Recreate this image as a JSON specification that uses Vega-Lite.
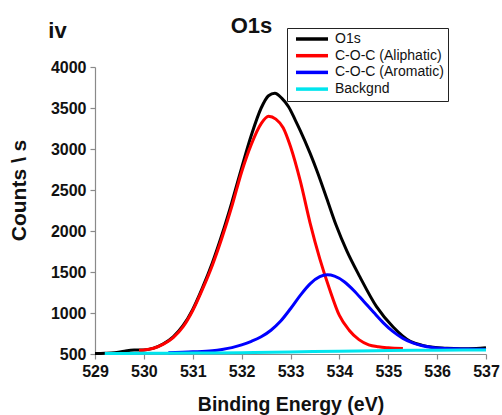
{
  "$schema": "https://vega.github.io/schema/vega-lite/v6.json",
  "width": 391,
  "height": 287,
  "autosize": {"type": "none"},
  "padding": {"left": 95, "top": 67, "right": 16, "bottom": 61},
  "background": "white",
  "config": {
    "view": {"stroke": null},
    "axis": {
      "grid": false,
      "domainColor": "#8a8a8a",
      "domainWidth": 1.2,
      "tickColor": "#8a8a8a",
      "tickWidth": 1.2,
      "labelFont": "Liberation Sans",
      "labelFontWeight": "bold",
      "labelFontSize": 16,
      "labelColor": "#111111",
      "titleFont": "Liberation Sans",
      "titleFontWeight": "bold",
      "titleColor": "#111111"
    },
    "legend": {
      "labelFont": "Liberation Sans",
      "labelFontSize": 14,
      "labelColor": "#111111"
    }
  },
  "layer": [
    {
      "data": {
        "values": [
          {"s": "O1s", "e": 529.0, "c": 505},
          {"s": "O1s", "e": 529.2, "c": 508},
          {"s": "O1s", "e": 529.4, "c": 515},
          {"s": "O1s", "e": 529.6, "c": 535},
          {"s": "O1s", "e": 529.8, "c": 548},
          {"s": "O1s", "e": 530.0, "c": 550},
          {"s": "O1s", "e": 530.2, "c": 572},
          {"s": "O1s", "e": 530.4, "c": 625},
          {"s": "O1s", "e": 530.6, "c": 710},
          {"s": "O1s", "e": 530.8, "c": 845},
          {"s": "O1s", "e": 531.0, "c": 1045},
          {"s": "O1s", "e": 531.2, "c": 1310},
          {"s": "O1s", "e": 531.4, "c": 1610},
          {"s": "O1s", "e": 531.6, "c": 1960},
          {"s": "O1s", "e": 531.8, "c": 2350},
          {"s": "O1s", "e": 532.0, "c": 2770},
          {"s": "O1s", "e": 532.2, "c": 3170},
          {"s": "O1s", "e": 532.4, "c": 3500},
          {"s": "O1s", "e": 532.55, "c": 3650},
          {"s": "O1s", "e": 532.68, "c": 3680},
          {"s": "O1s", "e": 532.82, "c": 3620},
          {"s": "O1s", "e": 532.96, "c": 3515},
          {"s": "O1s", "e": 533.1, "c": 3350},
          {"s": "O1s", "e": 533.2, "c": 3225},
          {"s": "O1s", "e": 533.4, "c": 2950},
          {"s": "O1s", "e": 533.55, "c": 2720},
          {"s": "O1s", "e": 533.74, "c": 2400},
          {"s": "O1s", "e": 533.94, "c": 2060},
          {"s": "O1s", "e": 534.15, "c": 1760},
          {"s": "O1s", "e": 534.42, "c": 1440},
          {"s": "O1s", "e": 534.76, "c": 1077},
          {"s": "O1s", "e": 535.1, "c": 830},
          {"s": "O1s", "e": 535.45, "c": 655},
          {"s": "O1s", "e": 535.7, "c": 605},
          {"s": "O1s", "e": 535.92, "c": 582},
          {"s": "O1s", "e": 536.2, "c": 570},
          {"s": "O1s", "e": 536.47, "c": 565},
          {"s": "O1s", "e": 536.8, "c": 568},
          {"s": "O1s", "e": 537.0, "c": 577},

          {"s": "C-O-C (Aliphatic)", "e": 529.9, "c": 545},
          {"s": "C-O-C (Aliphatic)", "e": 530.0, "c": 548},
          {"s": "C-O-C (Aliphatic)", "e": 530.2, "c": 570},
          {"s": "C-O-C (Aliphatic)", "e": 530.4, "c": 620},
          {"s": "C-O-C (Aliphatic)", "e": 530.6, "c": 700},
          {"s": "C-O-C (Aliphatic)", "e": 530.8, "c": 830},
          {"s": "C-O-C (Aliphatic)", "e": 531.0, "c": 1030},
          {"s": "C-O-C (Aliphatic)", "e": 531.2, "c": 1290},
          {"s": "C-O-C (Aliphatic)", "e": 531.4, "c": 1580},
          {"s": "C-O-C (Aliphatic)", "e": 531.6, "c": 1920},
          {"s": "C-O-C (Aliphatic)", "e": 531.8, "c": 2300},
          {"s": "C-O-C (Aliphatic)", "e": 532.0, "c": 2720},
          {"s": "C-O-C (Aliphatic)", "e": 532.2, "c": 3060},
          {"s": "C-O-C (Aliphatic)", "e": 532.4, "c": 3310},
          {"s": "C-O-C (Aliphatic)", "e": 532.55, "c": 3400},
          {"s": "C-O-C (Aliphatic)", "e": 532.7, "c": 3365},
          {"s": "C-O-C (Aliphatic)", "e": 532.85, "c": 3260},
          {"s": "C-O-C (Aliphatic)", "e": 533.0, "c": 3030},
          {"s": "C-O-C (Aliphatic)", "e": 533.2, "c": 2610},
          {"s": "C-O-C (Aliphatic)", "e": 533.4, "c": 2100},
          {"s": "C-O-C (Aliphatic)", "e": 533.6, "c": 1660},
          {"s": "C-O-C (Aliphatic)", "e": 533.8, "c": 1290},
          {"s": "C-O-C (Aliphatic)", "e": 534.0, "c": 970},
          {"s": "C-O-C (Aliphatic)", "e": 534.2, "c": 790},
          {"s": "C-O-C (Aliphatic)", "e": 534.4, "c": 675},
          {"s": "C-O-C (Aliphatic)", "e": 534.6, "c": 612},
          {"s": "C-O-C (Aliphatic)", "e": 534.8, "c": 588},
          {"s": "C-O-C (Aliphatic)", "e": 535.0, "c": 576},
          {"s": "C-O-C (Aliphatic)", "e": 535.3, "c": 566},

          {"s": "C-O-C (Aromatic)", "e": 530.5, "c": 516},
          {"s": "C-O-C (Aromatic)", "e": 531.0, "c": 526},
          {"s": "C-O-C (Aromatic)", "e": 531.4, "c": 540},
          {"s": "C-O-C (Aromatic)", "e": 531.6, "c": 556},
          {"s": "C-O-C (Aromatic)", "e": 531.8, "c": 578},
          {"s": "C-O-C (Aromatic)", "e": 532.0, "c": 612},
          {"s": "C-O-C (Aromatic)", "e": 532.2, "c": 655},
          {"s": "C-O-C (Aromatic)", "e": 532.4, "c": 710},
          {"s": "C-O-C (Aromatic)", "e": 532.6, "c": 790},
          {"s": "C-O-C (Aromatic)", "e": 532.8, "c": 902},
          {"s": "C-O-C (Aromatic)", "e": 533.0, "c": 1052},
          {"s": "C-O-C (Aromatic)", "e": 533.2, "c": 1215},
          {"s": "C-O-C (Aromatic)", "e": 533.4, "c": 1356},
          {"s": "C-O-C (Aromatic)", "e": 533.6, "c": 1443},
          {"s": "C-O-C (Aromatic)", "e": 533.75, "c": 1465},
          {"s": "C-O-C (Aromatic)", "e": 533.9, "c": 1450},
          {"s": "C-O-C (Aromatic)", "e": 534.1, "c": 1382},
          {"s": "C-O-C (Aromatic)", "e": 534.3, "c": 1272},
          {"s": "C-O-C (Aromatic)", "e": 534.5, "c": 1140},
          {"s": "C-O-C (Aromatic)", "e": 534.7, "c": 1008},
          {"s": "C-O-C (Aromatic)", "e": 534.9, "c": 880},
          {"s": "C-O-C (Aromatic)", "e": 535.1, "c": 772},
          {"s": "C-O-C (Aromatic)", "e": 535.3, "c": 690},
          {"s": "C-O-C (Aromatic)", "e": 535.5, "c": 635},
          {"s": "C-O-C (Aromatic)", "e": 535.7, "c": 600},
          {"s": "C-O-C (Aromatic)", "e": 535.9, "c": 580},
          {"s": "C-O-C (Aromatic)", "e": 536.1, "c": 570},
          {"s": "C-O-C (Aromatic)", "e": 536.4, "c": 563},
          {"s": "C-O-C (Aromatic)", "e": 536.8, "c": 558},
          {"s": "C-O-C (Aromatic)", "e": 537.0, "c": 555},

          {"s": "Backgnd", "e": 529.2, "c": 506},
          {"s": "Backgnd", "e": 530.0, "c": 508},
          {"s": "Backgnd", "e": 531.0, "c": 511},
          {"s": "Backgnd", "e": 532.0, "c": 516},
          {"s": "Backgnd", "e": 533.0, "c": 524},
          {"s": "Backgnd", "e": 534.0, "c": 535},
          {"s": "Backgnd", "e": 535.0, "c": 542},
          {"s": "Backgnd", "e": 536.0, "c": 546},
          {"s": "Backgnd", "e": 537.0, "c": 549}
        ]
      },
      "mark": {"type": "line", "strokeWidth": 3, "interpolate": "monotone"},
      "encoding": {
        "x": {
          "field": "e",
          "type": "quantitative",
          "scale": {"domain": [529, 537], "nice": false, "zero": false},
          "axis": {
            "title": "Binding Energy (eV)",
            "titleFontSize": 19.5,
            "titleBaseline": "alphabetic",
            "titleY": 56,
            "values": [529, 529.5, 530, 530.5, 531, 531.5, 532, 532.5, 533, 533.5, 534, 534.5, 535, 535.5, 536, 536.5, 537],
            "labelExpr": "datum.value % 1 ? '' : datum.label",
            "tickSize": {"condition": {"test": "datum.value % 1 !== 0", "value": 3}, "value": 5},
            "labelPadding": 4,
            "labelFlush": false,
            "labelOverlap": false
          }
        },
        "y": {
          "field": "c",
          "type": "quantitative",
          "scale": {"domain": [500, 4000], "nice": false, "zero": false},
          "axis": {
            "title": "Counts \\ s",
            "titleFontSize": 21,
            "titleAngle": 270,
            "titleAlign": "center",
            "titleBaseline": "alphabetic",
            "titleX": -70,
            "titleY": 123,
            "values": [500, 750, 1000, 1250, 1500, 1750, 2000, 2250, 2500, 2750, 3000, 3250, 3500, 3750, 4000],
            "format": "d",
            "labelExpr": "datum.value % 500 ? '' : datum.label",
            "tickSize": {"condition": {"test": "datum.value % 500 !== 0", "value": 3}, "value": 5},
            "labelPadding": 4,
            "labelOverlap": false
          }
        },
        "color": {
          "field": "s",
          "type": "nominal",
          "sort": null,
          "scale": {
            "domain": ["O1s", "C-O-C (Aliphatic)", "C-O-C (Aromatic)", "Backgnd"],
            "range": ["#000000", "#ff0000", "#0000ff", "#00e5ee"]
          },
          "legend": {
            "title": null,
            "orient": "none",
            "legendX": 192,
            "legendY": -39,
            "strokeColor": "#222222",
            "fillColor": "white",
            "padding": 4,
            "symbolType": "M-4,0H4",
            "symbolSize": 64,
            "symbolStrokeWidth": 3.5,
            "symbolOffset": 14,
            "labelOffset": 16,
            "rowPadding": 2.7
          }
        }
      }
    },
    {
      "data": {"values": [{"t": "O1s"}]},
      "mark": {"type": "text", "font": "Liberation Sans", "fontWeight": "bold", "fontSize": 22, "align": "center", "baseline": "alphabetic", "color": "#111111"},
      "encoding": {
        "x": {"datum": 532.202, "type": "quantitative"},
        "y": {"datum": 4411, "type": "quantitative"},
        "text": {"field": "t"}
      }
    },
    {
      "data": {"values": [{"t": "iv"}]},
      "mark": {"type": "text", "font": "Liberation Sans", "fontWeight": "bold", "fontSize": 22, "align": "center", "baseline": "alphabetic", "color": "#111111"},
      "encoding": {
        "x": {"datum": 528.233, "type": "quantitative"},
        "y": {"datum": 4350, "type": "quantitative"},
        "text": {"field": "t"}
      }
    }
  ]
}
